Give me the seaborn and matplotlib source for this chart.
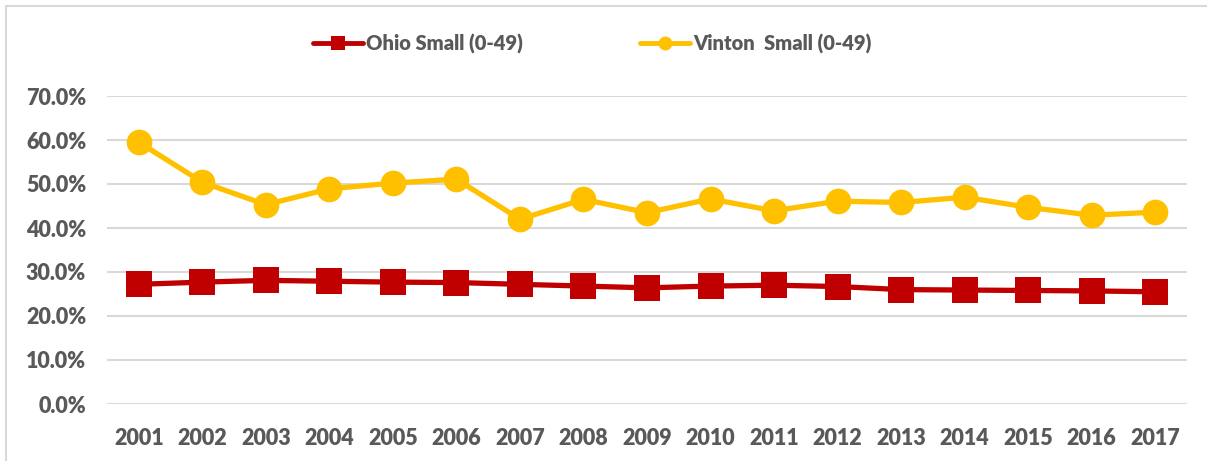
import pandas as pd
import numpy as np
import matplotlib.pyplot as plt
from matplotlib.ticker import FuncFormatter
from matplotlib.lines import Line2D
from matplotlib.patches import Rectangle
import seaborn as sns

# --- DATA ---
YEARS = list(range(2001, 2018))
OHIO_SMALL = [27.2, 27.7, 28.1, 27.9, 27.7, 27.6, 27.2, 26.8, 26.4, 26.8,
              27.0, 26.7, 26.0, 25.9, 25.8, 25.7, 25.5]
VINTON_SMALL = [59.5, 50.4, 45.3, 48.9, 50.2, 51.1, 42.0, 46.5, 43.5, 46.6,
                43.9, 46.1, 45.8, 47.0, 44.7, 42.9, 43.6]
SERIES_NAMES = ["Ohio Small (0-49)", "Vinton  Small (0-49)"]
Y_TICKS = [0, 10, 20, 30, 40, 50, 60, 70]

# --- CONFIGURATION ---
COLORS = ["#C00000", "#FFC000"]
MARKERS = ["s", "o"]
TEXT_COLOR = "#595959"
GRID_COLOR = "#D9D9D9"
WEIGHT = "heavy"

sns.set_style("white")
plt.rcParams['font.family'] = ['Lato', 'DejaVu Sans']

df = pd.DataFrame({
    "Year": YEARS * 2,
    "Share": OHIO_SMALL + VINTON_SMALL,
    "Series": [SERIES_NAMES[0]] * len(YEARS) + [SERIES_NAMES[1]] * len(YEARS),
})

W, H = 1207, 461
fig = plt.figure(figsize=(W / 100, H / 100), dpi=100)
ax = fig.add_axes([107 / W, 1 - 404 / H, (1187 - 107) / W, (404 - 96) / H])

# chart frame (left and top edges visible)
fig.add_artist(Rectangle((6 / W, -0.1), 1.2, 1 - 6 / H + 0.1, transform=fig.transFigure,
                         fill=False, edgecolor=GRID_COLOR, linewidth=1.5))

for name, color, marker in zip(SERIES_NAMES, COLORS, MARKERS):
    sub = df[df["Series"] == name]
    sns.lineplot(data=sub, x="Year", y="Share", ax=ax, color=color, linewidth=3.8,
                 marker=marker, markersize=18.5, markeredgewidth=0, legend=False)

ax.set_xlim(2000.5, 2017.5)
ax.set_ylim(0, 70)
ax.set_yticks(Y_TICKS)
ax.set_xticks(YEARS)
ax.yaxis.set_major_formatter(FuncFormatter(lambda v, _: f"{v:.1f}%"))
ax.grid(axis="y", color=GRID_COLOR, linewidth=1.5)
ax.set_axisbelow(True)
for s in ax.spines.values():
    s.set_visible(False)
ax.tick_params(axis="both", length=0, labelsize=15.5, labelcolor=TEXT_COLOR)
ax.tick_params(axis="x", pad=17)
ax.tick_params(axis="y", pad=15)
for lbl in ax.get_xticklabels() + ax.get_yticklabels():
    lbl.set_fontweight(WEIGHT)
ax.set_xlabel("")
ax.set_ylabel("")

handles = [Line2D([0], [0], color=c, lw=3.5, marker=m, markersize=10, markeredgewidth=0)
           for c, m in zip(COLORS, MARKERS)]
leg = fig.legend(handles, SERIES_NAMES, loc="center", bbox_to_anchor=(592 / W, 1 - 44 / H),
                 ncol=2, frameon=False, fontsize=14.5, labelcolor=TEXT_COLOR,
                 handlelength=2.5, handletextpad=0.15, columnspacing=5.8)
for t in leg.get_texts():
    t.set_fontweight(WEIGHT)

fig.savefig("out.png", dpi=100)
